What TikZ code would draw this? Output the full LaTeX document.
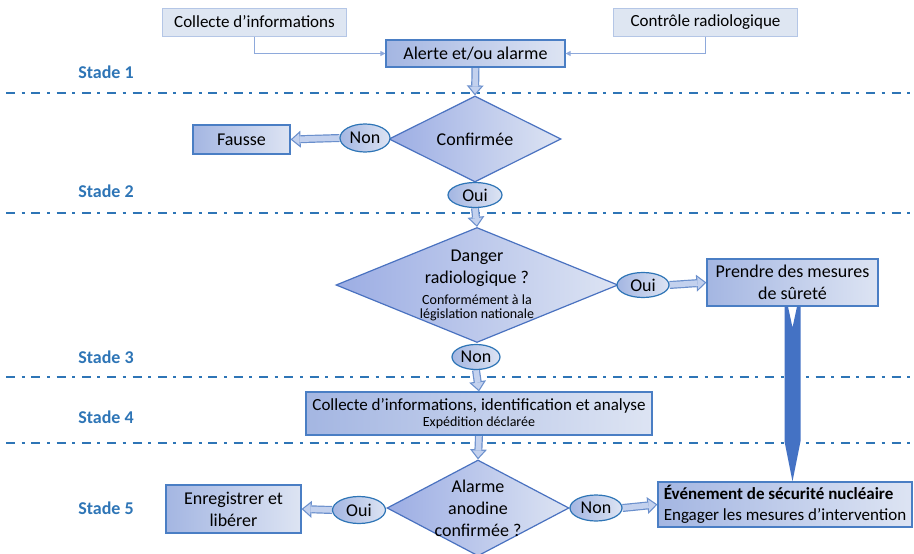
\documentclass[tikz,border=0pt]{standalone}
\usepackage{fontspec}
\setmainfont{Carlito}
\usepackage{tikz}
\usetikzlibrary{arrows.meta,positioning,calc,shapes.geometric,backgrounds}
\definecolor{clStage}{HTML}{2E75B6}
\definecolor{clBoxEdge}{HTML}{4A7EC4}
\definecolor{clBoxDark}{HTML}{A4B6E2}
\definecolor{clBoxLight}{HTML}{DDE4F3}
\definecolor{clSrcFill}{HTML}{DEE6F2}
\definecolor{clSrcEdge}{HTML}{B4C6E6}
\definecolor{clThin}{HTML}{8EA9DB}
\definecolor{clOval}{HTML}{2E75B6}
\definecolor{clDiamond}{HTML}{4A72C0}
\definecolor{clArrowEdge}{HTML}{6A8FCC}
\definecolor{clArrowFill}{HTML}{C3D1EE}
\definecolor{clBig}{HTML}{4472C4}
\newcommand{\smalltxt}{\fontsize{14}{15}\selectfont}
\tikzset{
  txt/.style={font=\fontsize{18}{22}\selectfont},
  box/.style={rectangle, draw=clBoxEdge, line width=1.2pt, left color=clBoxDark,
              right color=clBoxLight, align=center, inner sep=2pt, txt},
  srcbox/.style={rectangle, draw=clSrcEdge, line width=1pt, fill=clSrcFill,
                 minimum width=184pt, minimum height=28pt, inner sep=2pt,
                 font=\fontsize{17}{20}\selectfont},
  decision/.style={diamond, draw=clDiamond, line width=1.2pt, left color=clBoxDark!95!blue,
                   right color=clBoxLight, align=center, inner sep=-20pt, txt},
  answer/.style={ellipse, draw=clOval, line width=1.2pt, left color=clBoxDark,
                 right color=clBoxLight, inner sep=0pt, txt},
  stage/.style={text=clStage, font=\bfseries\fontsize{18}{20}\selectfont},
  stageline/.style={draw=clStage, line width=2pt,
                    dash pattern=on 9pt off 6.5pt on 3pt off 6.8pt},
  thinflow/.style={-{Triangle[length=5pt,width=5pt]}, draw=clThin, line width=1pt},
  hollow/.style={line width=8pt, draw=clArrowEdge,
                 -{Triangle[length=10pt,width=17pt,line width=0pt]},
                 postaction={draw=clArrowFill, line width=5.6pt,
                   -{Triangle[length=6.95pt,width=11.8pt,line width=0pt]}, shorten >=1.85pt}},
  bigarrow/.style={fill=clBig},
}
\begin{document}
\begin{tikzpicture}[x=1pt,y=-1pt]
  \useasboundingbox (0,0) rectangle (914,554);
  \node[stage] (s1) at (106,72) {Stade 1};
  \node[stage] (s2) at (106,191) {Stade 2};
  \node[stage] (s3) at (106,357) {Stade 3};
  \node[stage] (s4) at (106,417) {Stade 4};
  \node[stage] (s5) at (106,508) {Stade 5};

  \node[srcbox] (collecte) at (254.5,22) {Collecte d’informations};
  \node[srcbox] (controle) at (705.5,22) {Contrôle radiologique};
  \node[box, minimum width=179pt, minimum height=27pt] (alerte) at (475.5,53.5) {Alerte et/ou alarme};

  \node[decision, minimum width=172pt, minimum height=86pt] (confirmee) at (475,139) {Confirmée};
  \node[answer, minimum width=50pt, minimum height=28pt] (non1) at (365,138) {Non};
  \node[box, minimum width=97pt, minimum height=29pt] (fausse) at (241.5,139.5) {Fausse};
  \node[answer, minimum width=54pt, minimum height=25pt] (oui1) at (475,195) {Oui};

  \node[decision, minimum width=282pt, minimum height=115pt] (danger) at (477,285)
    {Danger\\radiologique ?\\[-1pt]\smalltxt Conformément à la\\[-8pt]\smalltxt législation nationale};
  \node[answer, minimum width=52pt, minimum height=25pt] (oui2) at (643,285) {Oui};
  \node[box, minimum width=171pt, minimum height=47pt] (surete) at (792.5,282.5)
    {Prendre des mesures\\de sûreté};
  \node[answer, minimum width=48pt, minimum height=25pt] (non2) at (476,357) {Non};

  \node[box, minimum width=346pt, minimum height=43pt, font=\fontsize{17}{20}\selectfont] (analyse) at (479,413.5)
    {Collecte d’informations, identification et analyse\\[-4pt]\smalltxt Expédition déclarée};

  \node[decision, minimum width=182pt, minimum height=96pt] (anodine) at (478,508)
    {Alarme\\anodine\\confirmée ?};
  \node[answer, minimum width=53pt, minimum height=27pt] (oui3) at (359,510) {Oui};
  \node[box, minimum width=135pt, minimum height=48pt] (liberer) at (233.5,509)
    {Enregistrer et\\libérer};
  \node[answer, minimum width=52pt, minimum height=26pt] (non3) at (596,508) {Non};
  \node[box, minimum width=254pt, minimum height=45pt, align=left, font=\fontsize{17}{21}\selectfont] (evenement) at (785,504.5)
    {\textbf{Événement de sécurité nucléaire}\\Engager les mesures d’intervention};

  \begin{scope}[on background layer]
    \draw[stageline] (6,93) -- (914,93);
    \draw[stageline] (6,213) -- (914,213);
    \draw[stageline] (6,377) -- (914,377);
    \draw[stageline] (6,443) -- (914,443);
    \draw[hollow] (alerte.south) -- (confirmee.north);
    \draw[hollow] (non1.west) -- (fausse.east);
    \draw[hollow] (oui1.south) -- (danger.north);
    \draw[hollow] (oui2.east) -- (surete.west);
    \draw[hollow] (non2.south) -- (analyse.north);
    \draw[hollow] (analyse.south) -- (anodine.north);
    \draw[hollow] (oui3.west) -- (liberer.east);
    \draw[hollow] (non3.east) -- (evenement.west);
  \end{scope}

  \draw[thinflow] (collecte.south) |- (alerte.west);
  \draw[thinflow] (controle.south) |- (alerte.east);

  \coordinate (bigtop) at (surete.south);
  \coordinate (bigtip) at (evenement.north -| surete.south);
  \fill[bigarrow] ($(bigtop)+(-8,0)$) -- ($(bigtop)+(-4.5,0)$) -- ($(bigtop)+(0,21)$)
    -- ($(bigtop)+(4.5,0)$) -- ($(bigtop)+(8,0)$) -- ($(bigtip)+(8,-40)$)
    -- (bigtip) -- ($(bigtip)+(-8,-40)$) -- cycle;
\end{tikzpicture}
\end{document}
